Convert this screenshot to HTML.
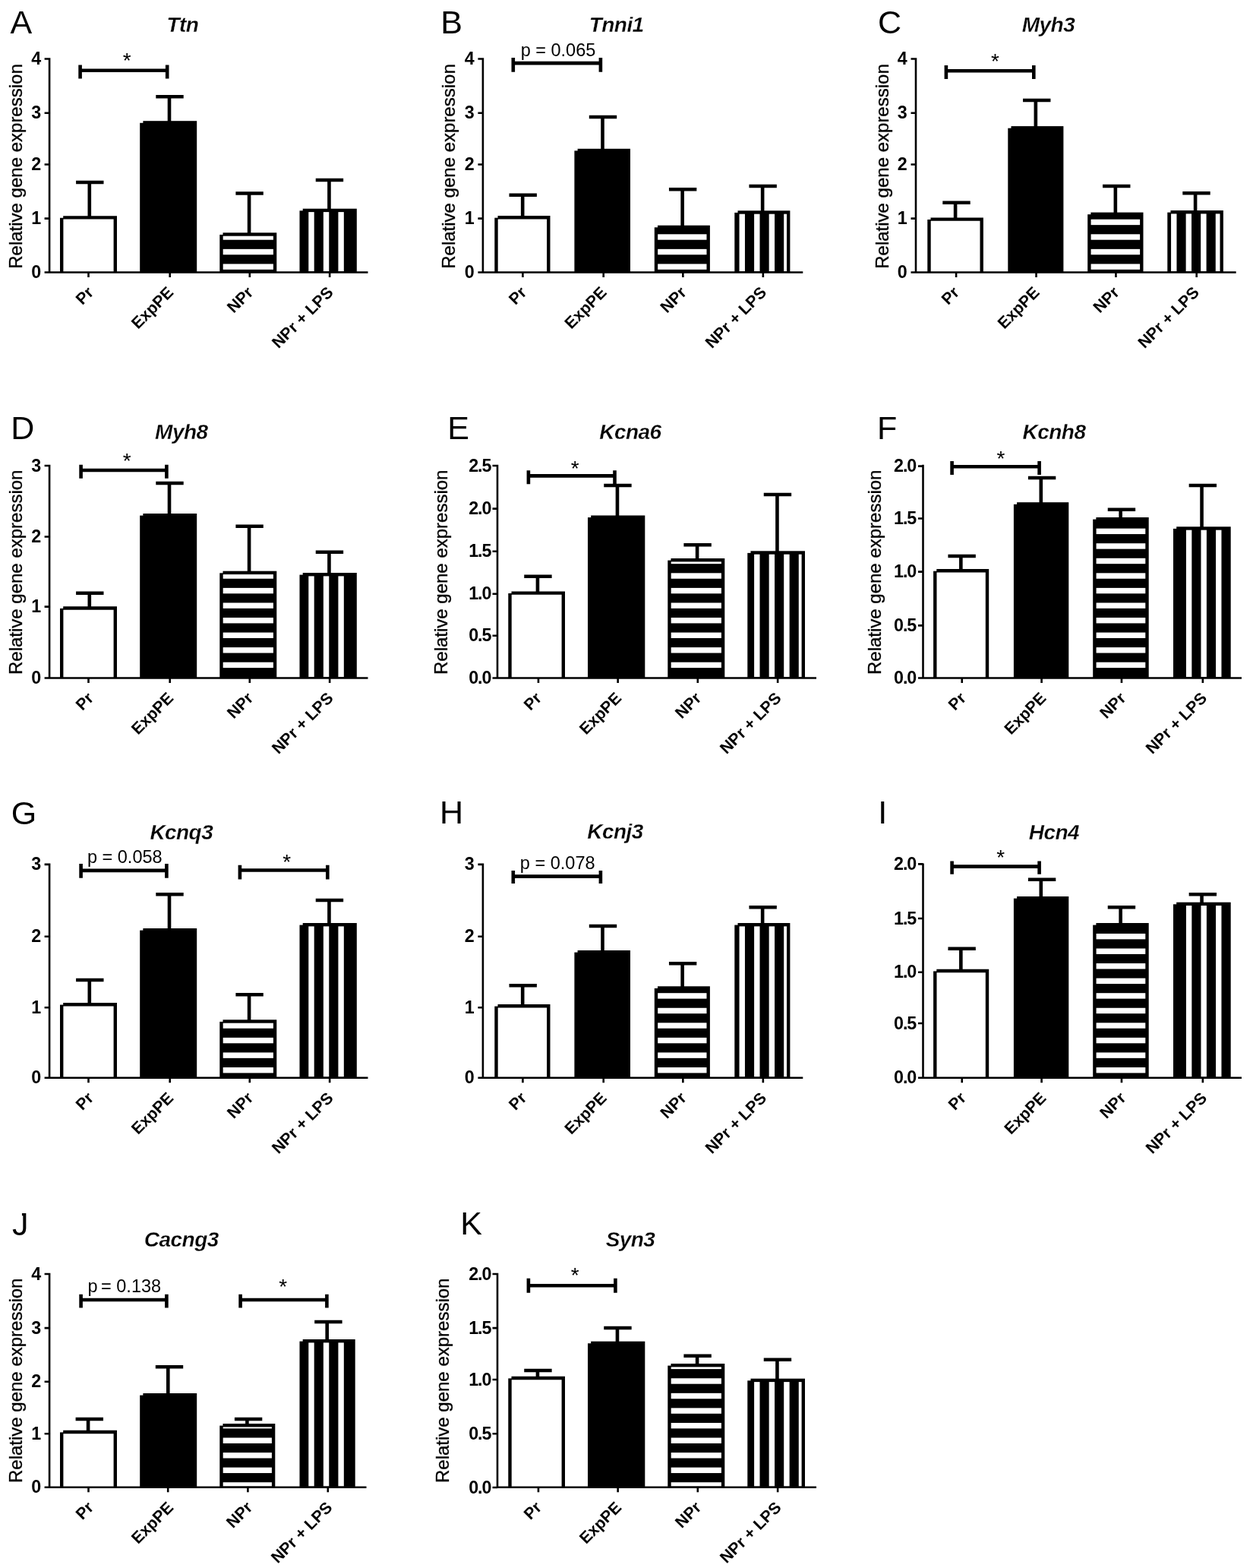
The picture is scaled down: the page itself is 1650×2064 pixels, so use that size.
<!DOCTYPE html>
<html lang="en">
<head>
<meta charset="utf-8">
<title>Relative gene expression</title>
<style>
html,body{margin:0;padding:0;background:#fff;}
body{width:1650px;height:2064px;overflow:hidden;}
svg{display:block;}
text{white-space:pre;}
</style>
</head>
<body>
<svg width="1650" height="2064" viewBox="0 0 1650 2064" font-family="'Liberation Sans', sans-serif" fill="#000">
<rect width="1650" height="2064" fill="#fff"/>
<g>
<text x="13.4" y="44" font-size="43">A</text>
<text x="240.5" y="41.5" font-size="28" font-weight="bold" font-style="italic" text-anchor="middle" letter-spacing="-0.55" stroke="#fff" stroke-width="0.3">Ttn</text>
<path d="M117.8 285.2V240M100.1 240H136.5" stroke="#000" stroke-width="4.6" fill="none"/>
<path d="M81.2 358.5V286.4H151.8V358.5" fill="#fff" stroke="#000" stroke-width="4.4"/>
<path d="M223 160.2V127.2M205.3 127.2H241.7" stroke="#000" stroke-width="4.6" fill="none"/>
<rect x="184.2" y="159.2" width="75" height="199.3"/>
<path d="M328.1 307.3V254.5M310.4 254.5H346.8" stroke="#000" stroke-width="4.6" fill="none"/>
<rect x="289.3" y="306.3" width="75" height="52.2"/>
<rect x="293.7" y="310.7" width="66.2" height="5" fill="#fff"/>
<rect x="293.7" y="327.86" width="66.2" height="7.4" fill="#fff"/>
<rect x="293.7" y="347.42" width="66.2" height="7.4" fill="#fff"/>
<path d="M433.45 275.7V237M415.75 237H452.15" stroke="#000" stroke-width="4.6" fill="none"/>
<rect x="394.5" y="274.7" width="75.3" height="83.8"/>
<rect x="406.3" y="279.1" width="7.4" height="78.1" fill="#fff"/>
<rect x="425.86" y="279.1" width="7.4" height="78.1" fill="#fff"/>
<rect x="445.42" y="279.1" width="7.4" height="78.1" fill="#fff"/>
<rect x="78" y="283.2" width="5.2" height="3.6" fill="#fff"/>
<rect x="183.2" y="158.2" width="5.2" height="3.6" fill="#fff"/>
<rect x="288.3" y="305.3" width="5.2" height="3.6" fill="#fff"/>
<rect x="393.5" y="273.7" width="5.2" height="3.6" fill="#fff"/>
<path d="M65.1 76.2V358.5H484.5M65.1 77.5H58.6M65.1 148.7H58.6M65.1 216.5H58.6M65.1 287.6H58.6M65.1 358.5H58.6M116.5 358.5V364.9M223.7 358.5V364.9M328.8 358.5V364.9M434.15 358.5V364.9" stroke="#000" stroke-width="2.6" fill="none" stroke-linejoin="miter"/>
<text x="54.2" y="85.04" font-size="23.3" font-weight="bold" text-anchor="end">4</text>
<text x="54.2" y="156.24" font-size="23.3" font-weight="bold" text-anchor="end">3</text>
<text x="54.2" y="224.04" font-size="23.3" font-weight="bold" text-anchor="end">2</text>
<text x="54.2" y="295.14" font-size="23.3" font-weight="bold" text-anchor="end">1</text>
<text x="54.2" y="366.04" font-size="23.3" font-weight="bold" text-anchor="end">0</text>
<text transform="translate(124.3 386.3) rotate(-45)" font-size="21.3" font-weight="bold" text-anchor="end">Pr</text>
<text transform="translate(229.5 386.3) rotate(-45)" font-size="21.3" font-weight="bold" text-anchor="end">ExpPE</text>
<text transform="translate(334.6 386.3) rotate(-45)" font-size="21.3" font-weight="bold" text-anchor="end">NPr</text>
<text transform="translate(439.95 386.3) rotate(-45)" font-size="21.3" font-weight="bold" text-anchor="end">NPr + LPS</text>
<text transform="translate(29.2 219) rotate(-90)" font-size="24" text-anchor="middle" stroke="#000" stroke-width="0.35">Relative gene expression</text>
<path d="M103.3 92.8H222.5M105.6 85.6V103.6M220.2 85.6V103.6" stroke="#000" stroke-width="4.6" fill="none"/>
<text x="167.2" y="89.4" font-size="28" text-anchor="middle">*</text>
</g>
<g>
<text x="580.3" y="44" font-size="43">B</text>
<text x="811.7" y="41.5" font-size="28" font-weight="bold" font-style="italic" text-anchor="middle" letter-spacing="-0.55" stroke="#fff" stroke-width="0.3">Tnni1</text>
<path d="M688.2 285.1V256.7M670.5 256.7H706.9" stroke="#000" stroke-width="4.6" fill="none"/>
<path d="M653.5 358.5V286.3H722.3V358.5" fill="#fff" stroke="#000" stroke-width="4.4"/>
<path d="M793.5 196.8V154M775.8 154H812.2" stroke="#000" stroke-width="4.6" fill="none"/>
<rect x="756.4" y="195.8" width="73.6" height="162.7"/>
<path d="M898.65 297.7V249.3M880.95 249.3H917.35" stroke="#000" stroke-width="4.6" fill="none"/>
<rect x="861.8" y="296.7" width="73.1" height="61.8"/>
<rect x="866.2" y="308.3" width="64.3" height="7.4" fill="#fff"/>
<rect x="866.2" y="327.86" width="64.3" height="7.4" fill="#fff"/>
<rect x="866.2" y="347.42" width="64.3" height="7.4" fill="#fff"/>
<path d="M1004.15 278.3V245M986.45 245H1022.85" stroke="#000" stroke-width="4.6" fill="none"/>
<rect x="967.3" y="277.3" width="73.1" height="81.2"/>
<rect x="973.54" y="281.7" width="7.4" height="75.5" fill="#fff"/>
<rect x="993.1" y="281.7" width="7.4" height="75.5" fill="#fff"/>
<rect x="1012.66" y="281.7" width="7.4" height="75.5" fill="#fff"/>
<rect x="1032.22" y="281.7" width="3.78" height="75.5" fill="#fff"/>
<rect x="650.3" y="283.1" width="5.2" height="3.6" fill="#fff"/>
<rect x="755.4" y="194.8" width="5.2" height="3.6" fill="#fff"/>
<rect x="860.8" y="295.7" width="5.2" height="3.6" fill="#fff"/>
<rect x="966.3" y="276.3" width="5.2" height="3.6" fill="#fff"/>
<path d="M635.9 76.2V358.5H1057.3M635.9 77.5H629.4M635.9 148.7H629.4M635.9 216.5H629.4M635.9 287.6H629.4M635.9 358.5H629.4M688.4 358.5V364.9M794.7 358.5V364.9M899.35 358.5V364.9M1004.85 358.5V364.9" stroke="#000" stroke-width="2.6" fill="none" stroke-linejoin="miter"/>
<text x="624.6" y="85.04" font-size="23.3" font-weight="bold" text-anchor="end">4</text>
<text x="624.6" y="156.24" font-size="23.3" font-weight="bold" text-anchor="end">3</text>
<text x="624.6" y="224.04" font-size="23.3" font-weight="bold" text-anchor="end">2</text>
<text x="624.6" y="295.14" font-size="23.3" font-weight="bold" text-anchor="end">1</text>
<text x="624.6" y="366.04" font-size="23.3" font-weight="bold" text-anchor="end">0</text>
<text transform="translate(694.7 386.3) rotate(-45)" font-size="21.3" font-weight="bold" text-anchor="end">Pr</text>
<text transform="translate(800 386.3) rotate(-45)" font-size="21.3" font-weight="bold" text-anchor="end">ExpPE</text>
<text transform="translate(905.15 386.3) rotate(-45)" font-size="21.3" font-weight="bold" text-anchor="end">NPr</text>
<text transform="translate(1010.65 386.3) rotate(-45)" font-size="21.3" font-weight="bold" text-anchor="end">NPr + LPS</text>
<text transform="translate(599.2 219) rotate(-90)" font-size="24" text-anchor="middle" stroke="#000" stroke-width="0.35">Relative gene expression</text>
<path d="M673.5 83.1H793.2M675.8 76V94.8M790.9 76V94.8" stroke="#000" stroke-width="4.6" fill="none"/>
<text x="735" y="74" font-size="23.5" text-anchor="middle">p = 0.065</text>
</g>
<g>
<text x="1156" y="44" font-size="43">C</text>
<text x="1380.5" y="41.5" font-size="28" font-weight="bold" font-style="italic" text-anchor="middle" letter-spacing="-0.55" stroke="#fff" stroke-width="0.3">Myh3</text>
<path d="M1258.1 287.4V266.7M1241.3 266.7H1277.7" stroke="#000" stroke-width="4.6" fill="none"/>
<path d="M1223.5 358.5V288.6H1292.7V358.5" fill="#fff" stroke="#000" stroke-width="4.4"/>
<path d="M1363.85 167.1V132M1347.05 132H1383.45" stroke="#000" stroke-width="4.6" fill="none"/>
<rect x="1327.3" y="166.1" width="73.1" height="192.4"/>
<path d="M1468.85 280.6V245M1452.05 245H1488.45" stroke="#000" stroke-width="4.6" fill="none"/>
<rect x="1432.2" y="279.6" width="73.3" height="78.9"/>
<rect x="1436.6" y="288.74" width="64.5" height="7.4" fill="#fff"/>
<rect x="1436.6" y="308.3" width="64.5" height="7.4" fill="#fff"/>
<rect x="1436.6" y="327.86" width="64.5" height="7.4" fill="#fff"/>
<rect x="1436.6" y="347.42" width="64.5" height="7.4" fill="#fff"/>
<path d="M1574.1 278V254.3M1557.3 254.3H1593.7" stroke="#000" stroke-width="4.6" fill="none"/>
<rect x="1537.3" y="277" width="73.6" height="81.5"/>
<rect x="1542.08" y="281.4" width="7.4" height="75.8" fill="#fff"/>
<rect x="1561.64" y="281.4" width="7.4" height="75.8" fill="#fff"/>
<rect x="1581.2" y="281.4" width="7.4" height="75.8" fill="#fff"/>
<rect x="1600.76" y="281.4" width="5.74" height="75.8" fill="#fff"/>
<rect x="1220.3" y="285.4" width="5.2" height="3.6" fill="#fff"/>
<rect x="1326.3" y="165.1" width="5.2" height="3.6" fill="#fff"/>
<rect x="1431.2" y="278.6" width="5.2" height="3.6" fill="#fff"/>
<rect x="1536.3" y="276" width="5.2" height="3.6" fill="#fff"/>
<path d="M1206 76.2V358.5H1627.7M1206 77.5H1199.5M1206 148.7H1199.5M1206 216.5H1199.5M1206 287.6H1199.5M1206 358.5H1199.5M1259.1 358.5V364.9M1364.55 358.5V364.9M1469.45 358.5V364.9M1575.7 358.5V364.9" stroke="#000" stroke-width="2.6" fill="none" stroke-linejoin="miter"/>
<text x="1194.7" y="85.04" font-size="23.3" font-weight="bold" text-anchor="end">4</text>
<text x="1194.7" y="156.24" font-size="23.3" font-weight="bold" text-anchor="end">3</text>
<text x="1194.7" y="224.04" font-size="23.3" font-weight="bold" text-anchor="end">2</text>
<text x="1194.7" y="295.14" font-size="23.3" font-weight="bold" text-anchor="end">1</text>
<text x="1194.7" y="366.04" font-size="23.3" font-weight="bold" text-anchor="end">0</text>
<text transform="translate(1264.4 386.3) rotate(-45)" font-size="21.3" font-weight="bold" text-anchor="end">Pr</text>
<text transform="translate(1370.15 386.3) rotate(-45)" font-size="21.3" font-weight="bold" text-anchor="end">ExpPE</text>
<text transform="translate(1475.15 386.3) rotate(-45)" font-size="21.3" font-weight="bold" text-anchor="end">NPr</text>
<text transform="translate(1580.4 386.3) rotate(-45)" font-size="21.3" font-weight="bold" text-anchor="end">NPr + LPS</text>
<text transform="translate(1169.7 219) rotate(-90)" font-size="24" text-anchor="middle" stroke="#000" stroke-width="0.35">Relative gene expression</text>
<path d="M1243.6 93.2H1363.6M1245.9 86V104M1361.3 86V104" stroke="#000" stroke-width="4.6" fill="none"/>
<text x="1310.5" y="90.1" font-size="28" text-anchor="middle">*</text>
</g>
<g>
<text x="14.3" y="577.9" font-size="43">D</text>
<text x="238.8" y="578" font-size="28" font-weight="bold" font-style="italic" text-anchor="middle" letter-spacing="-0.55" stroke="#fff" stroke-width="0.3">Myh8</text>
<path d="M117.8 799.3V780.7M100.1 780.7H136.5" stroke="#000" stroke-width="4.6" fill="none"/>
<path d="M81.2 892.5V800.5H151.8V892.5" fill="#fff" stroke="#000" stroke-width="4.4"/>
<path d="M223 677V636M205.3 636H241.7" stroke="#000" stroke-width="4.6" fill="none"/>
<rect x="184.2" y="676" width="75" height="216.5"/>
<path d="M328.1 752.7V692.7M310.4 692.7H346.8" stroke="#000" stroke-width="4.6" fill="none"/>
<rect x="289.3" y="751.7" width="75" height="140.8"/>
<rect x="293.7" y="756.1" width="66.2" height="5.64" fill="#fff"/>
<rect x="293.7" y="773.9" width="66.2" height="7.4" fill="#fff"/>
<rect x="293.7" y="793.46" width="66.2" height="7.4" fill="#fff"/>
<rect x="293.7" y="813.02" width="66.2" height="7.4" fill="#fff"/>
<rect x="293.7" y="832.58" width="66.2" height="7.4" fill="#fff"/>
<rect x="293.7" y="852.14" width="66.2" height="7.4" fill="#fff"/>
<rect x="293.7" y="871.7" width="66.2" height="7.4" fill="#fff"/>
<path d="M433.45 755V726.7M415.75 726.7H452.15" stroke="#000" stroke-width="4.6" fill="none"/>
<rect x="394.5" y="754" width="75.3" height="138.5"/>
<rect x="406.3" y="758.4" width="7.4" height="132.8" fill="#fff"/>
<rect x="425.86" y="758.4" width="7.4" height="132.8" fill="#fff"/>
<rect x="445.42" y="758.4" width="7.4" height="132.8" fill="#fff"/>
<rect x="78" y="797.3" width="5.2" height="3.6" fill="#fff"/>
<rect x="183.2" y="675" width="5.2" height="3.6" fill="#fff"/>
<rect x="288.3" y="750.7" width="5.2" height="3.6" fill="#fff"/>
<rect x="393.5" y="753" width="5.2" height="3.6" fill="#fff"/>
<path d="M65.1 611.7V892.5H484.5M65.1 613H58.6M65.1 706.5H58.6M65.1 798.6H58.6M65.1 892.5H58.6M116.5 892.5V898.9M223.7 892.5V898.9M328.8 892.5V898.9M434.15 892.5V898.9" stroke="#000" stroke-width="2.6" fill="none" stroke-linejoin="miter"/>
<text x="54.2" y="620.54" font-size="23.3" font-weight="bold" text-anchor="end">3</text>
<text x="54.2" y="714.04" font-size="23.3" font-weight="bold" text-anchor="end">2</text>
<text x="54.2" y="806.14" font-size="23.3" font-weight="bold" text-anchor="end">1</text>
<text x="54.2" y="900.04" font-size="23.3" font-weight="bold" text-anchor="end">0</text>
<text transform="translate(124.3 920.3) rotate(-45)" font-size="21.3" font-weight="bold" text-anchor="end">Pr</text>
<text transform="translate(229.5 920.3) rotate(-45)" font-size="21.3" font-weight="bold" text-anchor="end">ExpPE</text>
<text transform="translate(334.6 920.3) rotate(-45)" font-size="21.3" font-weight="bold" text-anchor="end">NPr</text>
<text transform="translate(439.95 920.3) rotate(-45)" font-size="21.3" font-weight="bold" text-anchor="end">NPr + LPS</text>
<text transform="translate(29.2 753.3) rotate(-90)" font-size="24" text-anchor="middle" stroke="#000" stroke-width="0.35">Relative gene expression</text>
<path d="M104.3 619H221.7M106.6 611.8V629.8M219.4 611.8V629.8" stroke="#000" stroke-width="4.6" fill="none"/>
<text x="167.3" y="616.3" font-size="28" text-anchor="middle">*</text>
</g>
<g>
<text x="589.2" y="577.9" font-size="43">E</text>
<text x="830" y="578" font-size="28" font-weight="bold" font-style="italic" text-anchor="middle" letter-spacing="-0.55" stroke="#fff" stroke-width="0.3">Kcna6</text>
<path d="M707.95 779.4V758.7M690.25 758.7H726.65" stroke="#000" stroke-width="4.6" fill="none"/>
<path d="M671.5 892.5V780.6H741.8V892.5" fill="#fff" stroke="#000" stroke-width="4.4"/>
<path d="M812.95 679.5V639M795.25 639H831.65" stroke="#000" stroke-width="4.6" fill="none"/>
<rect x="774" y="678.5" width="75.3" height="214"/>
<path d="M918.1 736V717.3M900.4 717.3H936.8" stroke="#000" stroke-width="4.6" fill="none"/>
<rect x="879.3" y="735" width="75" height="157.5"/>
<rect x="883.7" y="739.4" width="66.2" height="2.78" fill="#fff"/>
<rect x="883.7" y="754.34" width="66.2" height="7.4" fill="#fff"/>
<rect x="883.7" y="773.9" width="66.2" height="7.4" fill="#fff"/>
<rect x="883.7" y="793.46" width="66.2" height="7.4" fill="#fff"/>
<rect x="883.7" y="813.02" width="66.2" height="7.4" fill="#fff"/>
<rect x="883.7" y="832.58" width="66.2" height="7.4" fill="#fff"/>
<rect x="883.7" y="852.14" width="66.2" height="7.4" fill="#fff"/>
<rect x="883.7" y="871.7" width="66.2" height="7.4" fill="#fff"/>
<path d="M1023.45 726.3V651M1005.75 651H1042.15" stroke="#000" stroke-width="4.6" fill="none"/>
<rect x="984.3" y="725.3" width="75.7" height="167.2"/>
<rect x="993.1" y="729.7" width="7.4" height="161.5" fill="#fff"/>
<rect x="1012.66" y="729.7" width="7.4" height="161.5" fill="#fff"/>
<rect x="1032.22" y="729.7" width="7.4" height="161.5" fill="#fff"/>
<rect x="1051.78" y="729.7" width="3.82" height="161.5" fill="#fff"/>
<rect x="668.3" y="777.4" width="5.2" height="3.6" fill="#fff"/>
<rect x="773" y="677.5" width="5.2" height="3.6" fill="#fff"/>
<rect x="878.3" y="734" width="5.2" height="3.6" fill="#fff"/>
<rect x="983.3" y="724.3" width="5.2" height="3.6" fill="#fff"/>
<path d="M655 611.7V892.5H1075M655 613H648.5M655 669.6H648.5M655 725.7H648.5M655 781.8H648.5M655 836.8H648.5M655 892.5H648.5M708.95 892.5V898.9M813.65 892.5V898.9M918.8 892.5V898.9M1024.15 892.5V898.9" stroke="#000" stroke-width="2.6" fill="none" stroke-linejoin="miter"/>
<text x="646.3" y="620.54" font-size="23.3" font-weight="bold" text-anchor="end" letter-spacing="-1.1">2.5</text>
<text x="646.3" y="677.14" font-size="23.3" font-weight="bold" text-anchor="end" letter-spacing="-1.1">2.0</text>
<text x="646.3" y="733.24" font-size="23.3" font-weight="bold" text-anchor="end" letter-spacing="-1.1">1.5</text>
<text x="646.3" y="789.34" font-size="23.3" font-weight="bold" text-anchor="end" letter-spacing="-1.1">1.0</text>
<text x="646.3" y="844.34" font-size="23.3" font-weight="bold" text-anchor="end" letter-spacing="-1.1">0.5</text>
<text x="646.3" y="900.04" font-size="23.3" font-weight="bold" text-anchor="end" letter-spacing="-1.1">0.0</text>
<text transform="translate(714.45 920.3) rotate(-45)" font-size="21.3" font-weight="bold" text-anchor="end">Pr</text>
<text transform="translate(819.45 920.3) rotate(-45)" font-size="21.3" font-weight="bold" text-anchor="end">ExpPE</text>
<text transform="translate(924.6 920.3) rotate(-45)" font-size="21.3" font-weight="bold" text-anchor="end">NPr</text>
<text transform="translate(1029.95 920.3) rotate(-45)" font-size="21.3" font-weight="bold" text-anchor="end">NPr + LPS</text>
<text transform="translate(589.2 753.3) rotate(-90)" font-size="24" text-anchor="middle" stroke="#000" stroke-width="0.35">Relative gene expression</text>
<path d="M693.6 626.4H811.8M695.9 619.2V637.2M809.5 619.2V637.2" stroke="#000" stroke-width="4.6" fill="none"/>
<text x="757.3" y="625.8" font-size="28" text-anchor="middle">*</text>
</g>
<g>
<text x="1155" y="577.9" font-size="43">F</text>
<text x="1388" y="578" font-size="28" font-weight="bold" font-style="italic" text-anchor="middle" letter-spacing="-0.55" stroke="#fff" stroke-width="0.3">Kcnh8</text>
<path d="M1265.35 750.1V732M1248.45 732H1284.85" stroke="#000" stroke-width="4.6" fill="none"/>
<path d="M1231.3 892.5V751.3H1300V892.5" fill="#fff" stroke="#000" stroke-width="4.4"/>
<path d="M1370.8 662.2V629M1353.9 629H1390.3" stroke="#000" stroke-width="4.6" fill="none"/>
<rect x="1334.9" y="661.2" width="72.4" height="231.3"/>
<path d="M1475.65 682V670.7M1458.75 670.7H1495.15" stroke="#000" stroke-width="4.6" fill="none"/>
<rect x="1439.2" y="681" width="73.5" height="211.5"/>
<rect x="1443.6" y="695.66" width="64.7" height="7.4" fill="#fff"/>
<rect x="1443.6" y="715.22" width="64.7" height="7.4" fill="#fff"/>
<rect x="1443.6" y="734.78" width="64.7" height="7.4" fill="#fff"/>
<rect x="1443.6" y="754.34" width="64.7" height="7.4" fill="#fff"/>
<rect x="1443.6" y="773.9" width="64.7" height="7.4" fill="#fff"/>
<rect x="1443.6" y="793.46" width="64.7" height="7.4" fill="#fff"/>
<rect x="1443.6" y="813.02" width="64.7" height="7.4" fill="#fff"/>
<rect x="1443.6" y="832.58" width="64.7" height="7.4" fill="#fff"/>
<rect x="1443.6" y="852.14" width="64.7" height="7.4" fill="#fff"/>
<rect x="1443.6" y="871.7" width="64.7" height="7.4" fill="#fff"/>
<path d="M1582.55 694.3V639M1565.65 639H1602.05" stroke="#000" stroke-width="4.6" fill="none"/>
<rect x="1545" y="693.3" width="75.7" height="199.2"/>
<rect x="1561.94" y="697.7" width="7.4" height="193.5" fill="#fff"/>
<rect x="1581.5" y="697.7" width="7.4" height="193.5" fill="#fff"/>
<rect x="1601.06" y="697.7" width="7.4" height="193.5" fill="#fff"/>
<rect x="1228.1" y="748.1" width="5.2" height="3.6" fill="#fff"/>
<rect x="1333.9" y="660.2" width="5.2" height="3.6" fill="#fff"/>
<rect x="1438.2" y="680" width="5.2" height="3.6" fill="#fff"/>
<rect x="1544" y="692.3" width="5.2" height="3.6" fill="#fff"/>
<path d="M1215.5 611.7V892.5H1635M1215.5 613.6H1209M1215.5 682.5H1209M1215.5 752.6H1209M1215.5 823.4H1209M1215.5 892.5H1209M1266.75 892.5V898.9M1371.6 892.5V898.9M1476.95 892.5V898.9M1583.85 892.5V898.9" stroke="#000" stroke-width="2.6" fill="none" stroke-linejoin="miter"/>
<text x="1206.2" y="621.14" font-size="23.3" font-weight="bold" text-anchor="end" letter-spacing="-1.1">2.0</text>
<text x="1206.2" y="690.04" font-size="23.3" font-weight="bold" text-anchor="end" letter-spacing="-1.1">1.5</text>
<text x="1206.2" y="760.14" font-size="23.3" font-weight="bold" text-anchor="end" letter-spacing="-1.1">1.0</text>
<text x="1206.2" y="830.94" font-size="23.3" font-weight="bold" text-anchor="end" letter-spacing="-1.1">0.5</text>
<text x="1206.2" y="900.04" font-size="23.3" font-weight="bold" text-anchor="end" letter-spacing="-1.1">0.0</text>
<text transform="translate(1273.45 920.3) rotate(-45)" font-size="21.3" font-weight="bold" text-anchor="end">Pr</text>
<text transform="translate(1378.9 920.3) rotate(-45)" font-size="21.3" font-weight="bold" text-anchor="end">ExpPE</text>
<text transform="translate(1483.75 920.3) rotate(-45)" font-size="21.3" font-weight="bold" text-anchor="end">NPr</text>
<text transform="translate(1590.65 920.3) rotate(-45)" font-size="21.3" font-weight="bold" text-anchor="end">NPr + LPS</text>
<text transform="translate(1159.5 753.3) rotate(-90)" font-size="24" text-anchor="middle" stroke="#000" stroke-width="0.35">Relative gene expression</text>
<path d="M1251.3 614.2H1370.9M1253.6 607V625M1368.6 607V625" stroke="#000" stroke-width="4.6" fill="none"/>
<text x="1318" y="613" font-size="28" text-anchor="middle">*</text>
</g>
<g>
<text x="14.8" y="1084.8" font-size="43">G</text>
<text x="238.8" y="1105" font-size="28" font-weight="bold" font-style="italic" text-anchor="middle" letter-spacing="-0.55" stroke="#fff" stroke-width="0.3">Kcnq3</text>
<path d="M117.8 1321V1290M100.1 1290H136.5" stroke="#000" stroke-width="4.6" fill="none"/>
<path d="M81.2 1418.8V1322.2H151.8V1418.8" fill="#fff" stroke="#000" stroke-width="4.4"/>
<path d="M223 1223V1177.3M205.3 1177.3H241.7" stroke="#000" stroke-width="4.6" fill="none"/>
<rect x="184.2" y="1222" width="75" height="196.8"/>
<path d="M328.1 1343.3V1309.3M310.4 1309.3H346.8" stroke="#000" stroke-width="4.6" fill="none"/>
<rect x="289.3" y="1342.3" width="75" height="76.5"/>
<rect x="293.7" y="1346.7" width="66.2" height="7.02" fill="#fff"/>
<rect x="293.7" y="1365.88" width="66.2" height="7.4" fill="#fff"/>
<rect x="293.7" y="1385.44" width="66.2" height="7.4" fill="#fff"/>
<rect x="293.7" y="1405" width="66.2" height="7.4" fill="#fff"/>
<path d="M433.45 1216V1185M415.75 1185H452.15" stroke="#000" stroke-width="4.6" fill="none"/>
<rect x="394.5" y="1215" width="75.3" height="203.8"/>
<rect x="406.3" y="1219.4" width="7.4" height="198.1" fill="#fff"/>
<rect x="425.86" y="1219.4" width="7.4" height="198.1" fill="#fff"/>
<rect x="445.42" y="1219.4" width="7.4" height="198.1" fill="#fff"/>
<rect x="78" y="1319" width="5.2" height="3.6" fill="#fff"/>
<rect x="183.2" y="1221" width="5.2" height="3.6" fill="#fff"/>
<rect x="288.3" y="1341.3" width="5.2" height="3.6" fill="#fff"/>
<rect x="393.5" y="1214" width="5.2" height="3.6" fill="#fff"/>
<path d="M65.1 1136.6V1418.8H484.5M65.1 1137.9H58.6M65.1 1232.8H58.6M65.1 1326.3H58.6M65.1 1418.8H58.6M116.5 1418.8V1425.2M223.7 1418.8V1425.2M328.8 1418.8V1425.2M434.15 1418.8V1425.2" stroke="#000" stroke-width="2.6" fill="none" stroke-linejoin="miter"/>
<text x="54.2" y="1145.44" font-size="23.3" font-weight="bold" text-anchor="end">3</text>
<text x="54.2" y="1240.34" font-size="23.3" font-weight="bold" text-anchor="end">2</text>
<text x="54.2" y="1333.84" font-size="23.3" font-weight="bold" text-anchor="end">1</text>
<text x="54.2" y="1426.34" font-size="23.3" font-weight="bold" text-anchor="end">0</text>
<text transform="translate(124.3 1446.6) rotate(-45)" font-size="21.3" font-weight="bold" text-anchor="end">Pr</text>
<text transform="translate(229.5 1446.6) rotate(-45)" font-size="21.3" font-weight="bold" text-anchor="end">ExpPE</text>
<text transform="translate(334.6 1446.6) rotate(-45)" font-size="21.3" font-weight="bold" text-anchor="end">NPr</text>
<text transform="translate(439.95 1446.6) rotate(-45)" font-size="21.3" font-weight="bold" text-anchor="end">NPr + LPS</text>
<path d="M104.3 1145.9H221.7M106.6 1136.9V1155.7M219.4 1136.9V1155.7" stroke="#000" stroke-width="4.6" fill="none"/>
<text x="164.3" y="1136" font-size="23.5" text-anchor="middle">p = 0.058</text>
<path d="M313.6 1145.5H433.6M315.9 1138.7V1157.5M431.3 1138.7V1157.5" stroke="#000" stroke-width="4.6" fill="none"/>
<text x="377.7" y="1144" font-size="28" text-anchor="middle">*</text>
</g>
<g>
<text x="579" y="1084.4" font-size="43">H</text>
<text x="810" y="1104.4" font-size="28" font-weight="bold" font-style="italic" text-anchor="middle" letter-spacing="-0.55" stroke="#fff" stroke-width="0.3">Kcnj3</text>
<path d="M688.2 1323V1297.3M670.5 1297.3H706.9" stroke="#000" stroke-width="4.6" fill="none"/>
<path d="M653.5 1418.8V1324.2H722.3V1418.8" fill="#fff" stroke="#000" stroke-width="4.4"/>
<path d="M793.5 1252V1219M775.8 1219H812.2" stroke="#000" stroke-width="4.6" fill="none"/>
<rect x="756.4" y="1251" width="73.6" height="167.8"/>
<path d="M898.65 1299.3V1268.3M880.95 1268.3H917.35" stroke="#000" stroke-width="4.6" fill="none"/>
<rect x="861.8" y="1298.3" width="73.1" height="120.5"/>
<rect x="866.2" y="1307.2" width="64.3" height="7.4" fill="#fff"/>
<rect x="866.2" y="1326.76" width="64.3" height="7.4" fill="#fff"/>
<rect x="866.2" y="1346.32" width="64.3" height="7.4" fill="#fff"/>
<rect x="866.2" y="1365.88" width="64.3" height="7.4" fill="#fff"/>
<rect x="866.2" y="1385.44" width="64.3" height="7.4" fill="#fff"/>
<rect x="866.2" y="1405" width="64.3" height="7.4" fill="#fff"/>
<path d="M1004.15 1216V1194.3M986.45 1194.3H1022.85" stroke="#000" stroke-width="4.6" fill="none"/>
<rect x="967.3" y="1215" width="73.1" height="203.8"/>
<rect x="973.54" y="1219.4" width="7.4" height="198.1" fill="#fff"/>
<rect x="993.1" y="1219.4" width="7.4" height="198.1" fill="#fff"/>
<rect x="1012.66" y="1219.4" width="7.4" height="198.1" fill="#fff"/>
<rect x="1032.22" y="1219.4" width="3.78" height="198.1" fill="#fff"/>
<rect x="650.3" y="1321" width="5.2" height="3.6" fill="#fff"/>
<rect x="755.4" y="1250" width="5.2" height="3.6" fill="#fff"/>
<rect x="860.8" y="1297.3" width="5.2" height="3.6" fill="#fff"/>
<rect x="966.3" y="1214" width="5.2" height="3.6" fill="#fff"/>
<path d="M635.9 1136.6V1418.8H1057.3M635.9 1137.9H629.4M635.9 1232.8H629.4M635.9 1326.3H629.4M635.9 1418.8H629.4M688.4 1418.8V1425.2M794.7 1418.8V1425.2M899.35 1418.8V1425.2M1004.85 1418.8V1425.2" stroke="#000" stroke-width="2.6" fill="none" stroke-linejoin="miter"/>
<text x="624.6" y="1145.44" font-size="23.3" font-weight="bold" text-anchor="end">3</text>
<text x="624.6" y="1240.34" font-size="23.3" font-weight="bold" text-anchor="end">2</text>
<text x="624.6" y="1333.84" font-size="23.3" font-weight="bold" text-anchor="end">1</text>
<text x="624.6" y="1426.34" font-size="23.3" font-weight="bold" text-anchor="end">0</text>
<text transform="translate(694.7 1446.6) rotate(-45)" font-size="21.3" font-weight="bold" text-anchor="end">Pr</text>
<text transform="translate(800 1446.6) rotate(-45)" font-size="21.3" font-weight="bold" text-anchor="end">ExpPE</text>
<text transform="translate(905.15 1446.6) rotate(-45)" font-size="21.3" font-weight="bold" text-anchor="end">NPr</text>
<text transform="translate(1010.65 1446.6) rotate(-45)" font-size="21.3" font-weight="bold" text-anchor="end">NPr + LPS</text>
<path d="M673.5 1153.6H793.2M675.8 1146.1V1163.1M790.9 1146.1V1163.1" stroke="#000" stroke-width="4.6" fill="none"/>
<text x="734.2" y="1143.8" font-size="23.5" text-anchor="middle">p = 0.078</text>
</g>
<g>
<text x="1156.2" y="1084.1" font-size="43">I</text>
<text x="1388" y="1105" font-size="28" font-weight="bold" font-style="italic" text-anchor="middle" letter-spacing="-0.55" stroke="#fff" stroke-width="0.3">Hcn4</text>
<path d="M1265.35 1276.8V1248.7M1248.45 1248.7H1284.85" stroke="#000" stroke-width="4.6" fill="none"/>
<path d="M1231.3 1418.8V1278H1300V1418.8" fill="#fff" stroke="#000" stroke-width="4.4"/>
<path d="M1370.8 1181V1157.7M1353.9 1157.7H1390.3" stroke="#000" stroke-width="4.6" fill="none"/>
<rect x="1334.9" y="1180" width="72.4" height="238.8"/>
<path d="M1475.65 1216V1194.3M1458.75 1194.3H1495.15" stroke="#000" stroke-width="4.6" fill="none"/>
<rect x="1439.2" y="1215" width="73.5" height="203.8"/>
<rect x="1443.6" y="1228.96" width="64.7" height="7.4" fill="#fff"/>
<rect x="1443.6" y="1248.52" width="64.7" height="7.4" fill="#fff"/>
<rect x="1443.6" y="1268.08" width="64.7" height="7.4" fill="#fff"/>
<rect x="1443.6" y="1287.64" width="64.7" height="7.4" fill="#fff"/>
<rect x="1443.6" y="1307.2" width="64.7" height="7.4" fill="#fff"/>
<rect x="1443.6" y="1326.76" width="64.7" height="7.4" fill="#fff"/>
<rect x="1443.6" y="1346.32" width="64.7" height="7.4" fill="#fff"/>
<rect x="1443.6" y="1365.88" width="64.7" height="7.4" fill="#fff"/>
<rect x="1443.6" y="1385.44" width="64.7" height="7.4" fill="#fff"/>
<rect x="1443.6" y="1405" width="64.7" height="7.4" fill="#fff"/>
<path d="M1582.55 1188.7V1177.3M1565.65 1177.3H1602.05" stroke="#000" stroke-width="4.6" fill="none"/>
<rect x="1545" y="1187.7" width="75.7" height="231.1"/>
<rect x="1561.94" y="1192.1" width="7.4" height="225.4" fill="#fff"/>
<rect x="1581.5" y="1192.1" width="7.4" height="225.4" fill="#fff"/>
<rect x="1601.06" y="1192.1" width="7.4" height="225.4" fill="#fff"/>
<rect x="1228.1" y="1274.8" width="5.2" height="3.6" fill="#fff"/>
<rect x="1333.9" y="1179" width="5.2" height="3.6" fill="#fff"/>
<rect x="1438.2" y="1214" width="5.2" height="3.6" fill="#fff"/>
<rect x="1544" y="1186.7" width="5.2" height="3.6" fill="#fff"/>
<path d="M1215.5 1136.6V1418.8H1635M1215.5 1137.4H1209M1215.5 1209H1209M1215.5 1279.8H1209M1215.5 1347H1209M1215.5 1418.8H1209M1266.75 1418.8V1425.2M1371.6 1418.8V1425.2M1476.95 1418.8V1425.2M1583.85 1418.8V1425.2" stroke="#000" stroke-width="2.6" fill="none" stroke-linejoin="miter"/>
<text x="1206.2" y="1144.94" font-size="23.3" font-weight="bold" text-anchor="end" letter-spacing="-1.1">2.0</text>
<text x="1206.2" y="1216.54" font-size="23.3" font-weight="bold" text-anchor="end" letter-spacing="-1.1">1.5</text>
<text x="1206.2" y="1287.34" font-size="23.3" font-weight="bold" text-anchor="end" letter-spacing="-1.1">1.0</text>
<text x="1206.2" y="1354.54" font-size="23.3" font-weight="bold" text-anchor="end" letter-spacing="-1.1">0.5</text>
<text x="1206.2" y="1426.34" font-size="23.3" font-weight="bold" text-anchor="end" letter-spacing="-1.1">0.0</text>
<text transform="translate(1273.45 1446.6) rotate(-45)" font-size="21.3" font-weight="bold" text-anchor="end">Pr</text>
<text transform="translate(1378.9 1446.6) rotate(-45)" font-size="21.3" font-weight="bold" text-anchor="end">ExpPE</text>
<text transform="translate(1483.75 1446.6) rotate(-45)" font-size="21.3" font-weight="bold" text-anchor="end">NPr</text>
<text transform="translate(1590.65 1446.6) rotate(-45)" font-size="21.3" font-weight="bold" text-anchor="end">NPr + LPS</text>
<path d="M1251.3 1140.6H1370.9M1253.6 1133.6V1150.8M1368.6 1133.6V1150.8" stroke="#000" stroke-width="4.6" fill="none"/>
<text x="1317.7" y="1137.8" font-size="28" text-anchor="middle">*</text>
</g>
<g>
<text x="16" y="1626" font-size="43">J</text>
<rect x="14" y="1593.21" width="14.93" height="8" fill="#fff"/>
<text x="238.8" y="1640.7" font-size="28" font-weight="bold" font-style="italic" text-anchor="middle" letter-spacing="-0.55" stroke="#fff" stroke-width="0.3">Cacng3</text>
<path d="M116.1 1883.8V1868M99.6 1868H136" stroke="#000" stroke-width="4.6" fill="none"/>
<path d="M81.2 1957.8V1885H151.8V1957.8" fill="#fff" stroke="#000" stroke-width="4.4"/>
<path d="M221.3 1835V1799.3M204.8 1799.3H241.2" stroke="#000" stroke-width="4.6" fill="none"/>
<rect x="184.2" y="1834" width="75" height="123.8"/>
<path d="M325.4 1875V1868M308.9 1868H345.3" stroke="#000" stroke-width="4.6" fill="none"/>
<rect x="289.3" y="1874" width="73" height="83.8"/>
<rect x="293.7" y="1878.4" width="64.2" height="1.96" fill="#fff"/>
<rect x="293.7" y="1892.52" width="64.2" height="7.4" fill="#fff"/>
<rect x="293.7" y="1912.08" width="64.2" height="7.4" fill="#fff"/>
<rect x="293.7" y="1931.64" width="64.2" height="7.4" fill="#fff"/>
<rect x="293.7" y="1951.2" width="64.2" height="5.3" fill="#fff"/>
<path d="M430.7 1764V1740M414.2 1740H450.6" stroke="#000" stroke-width="4.6" fill="none"/>
<rect x="394.5" y="1763" width="73.2" height="194.8"/>
<rect x="406.3" y="1767.4" width="7.4" height="189.1" fill="#fff"/>
<rect x="425.86" y="1767.4" width="7.4" height="189.1" fill="#fff"/>
<rect x="445.42" y="1767.4" width="7.4" height="189.1" fill="#fff"/>
<rect x="78" y="1881.8" width="5.2" height="3.6" fill="#fff"/>
<rect x="183.2" y="1833" width="5.2" height="3.6" fill="#fff"/>
<rect x="288.3" y="1873" width="5.2" height="3.6" fill="#fff"/>
<rect x="393.5" y="1762" width="5.2" height="3.6" fill="#fff"/>
<path d="M65.1 1675.7V1957.8H482.5M65.1 1677H58.6M65.1 1748.1H58.6M65.1 1818.7H58.6M65.1 1887.3H58.6M65.1 1957.8H58.6M116.5 1957.8V1964.2M221.2 1957.8V1964.2M326.4 1957.8V1964.2M431.8 1957.8V1964.2" stroke="#000" stroke-width="2.6" fill="none" stroke-linejoin="miter"/>
<text x="54.2" y="1684.54" font-size="23.3" font-weight="bold" text-anchor="end">4</text>
<text x="54.2" y="1755.64" font-size="23.3" font-weight="bold" text-anchor="end">3</text>
<text x="54.2" y="1826.24" font-size="23.3" font-weight="bold" text-anchor="end">2</text>
<text x="54.2" y="1894.84" font-size="23.3" font-weight="bold" text-anchor="end">1</text>
<text x="54.2" y="1965.34" font-size="23.3" font-weight="bold" text-anchor="end">0</text>
<text transform="translate(124.3 1985.6) rotate(-45)" font-size="21.3" font-weight="bold" text-anchor="end">Pr</text>
<text transform="translate(229.5 1985.6) rotate(-45)" font-size="21.3" font-weight="bold" text-anchor="end">ExpPE</text>
<text transform="translate(333.6 1985.6) rotate(-45)" font-size="21.3" font-weight="bold" text-anchor="end">NPr</text>
<text transform="translate(438.9 1985.6) rotate(-45)" font-size="21.3" font-weight="bold" text-anchor="end">NPr + LPS</text>
<text transform="translate(29.2 1817.3) rotate(-90)" font-size="24" text-anchor="middle" stroke="#000" stroke-width="0.35">Relative gene expression</text>
<path d="M104.3 1711H221.7M106.6 1703.8V1721.4M219.4 1703.8V1721.4" stroke="#000" stroke-width="4.6" fill="none"/>
<text x="163.8" y="1700.7" font-size="23.5" text-anchor="middle">p<tspan dx="4.5">= 0.138</tspan></text>
<path d="M314.3 1711H432.7M316.6 1703.8V1721.4M430.4 1703.8V1721.4" stroke="#000" stroke-width="4.6" fill="none"/>
<text x="372.7" y="1702.8" font-size="28" text-anchor="middle">*</text>
</g>
<g>
<text x="606.2" y="1625.3" font-size="43">K</text>
<text x="830" y="1640.7" font-size="28" font-weight="bold" font-style="italic" text-anchor="middle" letter-spacing="-0.55" stroke="#fff" stroke-width="0.3">Syn3</text>
<path d="M707.95 1812.8V1804M690.25 1804H726.65" stroke="#000" stroke-width="4.6" fill="none"/>
<path d="M671.5 1957.8V1814H741.8V1957.8" fill="#fff" stroke="#000" stroke-width="4.4"/>
<path d="M812.95 1766.7V1748M795.25 1748H831.65" stroke="#000" stroke-width="4.6" fill="none"/>
<rect x="774" y="1765.7" width="75.3" height="192.1"/>
<path d="M918.1 1796V1784.7M900.4 1784.7H936.8" stroke="#000" stroke-width="4.6" fill="none"/>
<rect x="879.3" y="1795" width="75" height="162.8"/>
<rect x="883.7" y="1799.4" width="66.2" height="2.72" fill="#fff"/>
<rect x="883.7" y="1814.28" width="66.2" height="7.4" fill="#fff"/>
<rect x="883.7" y="1833.84" width="66.2" height="7.4" fill="#fff"/>
<rect x="883.7" y="1853.4" width="66.2" height="7.4" fill="#fff"/>
<rect x="883.7" y="1872.96" width="66.2" height="7.4" fill="#fff"/>
<rect x="883.7" y="1892.52" width="66.2" height="7.4" fill="#fff"/>
<rect x="883.7" y="1912.08" width="66.2" height="7.4" fill="#fff"/>
<rect x="883.7" y="1931.64" width="66.2" height="7.4" fill="#fff"/>
<rect x="883.7" y="1951.2" width="66.2" height="5.3" fill="#fff"/>
<path d="M1023.45 1815.7V1789.7M1005.75 1789.7H1042.15" stroke="#000" stroke-width="4.6" fill="none"/>
<rect x="984.3" y="1814.7" width="75.7" height="143.1"/>
<rect x="993.1" y="1819.1" width="7.4" height="137.4" fill="#fff"/>
<rect x="1012.66" y="1819.1" width="7.4" height="137.4" fill="#fff"/>
<rect x="1032.22" y="1819.1" width="7.4" height="137.4" fill="#fff"/>
<rect x="1051.78" y="1819.1" width="3.82" height="137.4" fill="#fff"/>
<rect x="668.3" y="1810.8" width="5.2" height="3.6" fill="#fff"/>
<rect x="773" y="1764.7" width="5.2" height="3.6" fill="#fff"/>
<rect x="878.3" y="1794" width="5.2" height="3.6" fill="#fff"/>
<rect x="983.3" y="1813.7" width="5.2" height="3.6" fill="#fff"/>
<path d="M655 1675.7V1957.8H1075M655 1677H648.5M655 1748.1H648.5M655 1816H648.5M655 1887.3H648.5M655 1958H648.5M708.95 1957.8V1964.2M813.65 1957.8V1964.2M918.8 1957.8V1964.2M1024.15 1957.8V1964.2" stroke="#000" stroke-width="2.6" fill="none" stroke-linejoin="miter"/>
<text x="646.3" y="1684.54" font-size="23.3" font-weight="bold" text-anchor="end" letter-spacing="-1.1">2.0</text>
<text x="646.3" y="1755.64" font-size="23.3" font-weight="bold" text-anchor="end" letter-spacing="-1.1">1.5</text>
<text x="646.3" y="1823.54" font-size="23.3" font-weight="bold" text-anchor="end" letter-spacing="-1.1">1.0</text>
<text x="646.3" y="1894.84" font-size="23.3" font-weight="bold" text-anchor="end" letter-spacing="-1.1">0.5</text>
<text x="646.3" y="1965.54" font-size="23.3" font-weight="bold" text-anchor="end" letter-spacing="-1.1">0.0</text>
<text transform="translate(714.45 1985.6) rotate(-45)" font-size="21.3" font-weight="bold" text-anchor="end">Pr</text>
<text transform="translate(819.45 1985.6) rotate(-45)" font-size="21.3" font-weight="bold" text-anchor="end">ExpPE</text>
<text transform="translate(924.6 1985.6) rotate(-45)" font-size="21.3" font-weight="bold" text-anchor="end">NPr</text>
<text transform="translate(1029.95 1985.6) rotate(-45)" font-size="21.3" font-weight="bold" text-anchor="end">NPr + LPS</text>
<text transform="translate(590.5 1817.3) rotate(-90)" font-size="24" text-anchor="middle" stroke="#000" stroke-width="0.35">Relative gene expression</text>
<path d="M693.6 1692.2H812.7M695.9 1682.7V1701.7M810.4 1682.7V1701.7" stroke="#000" stroke-width="4.6" fill="none"/>
<text x="757.3" y="1687.8" font-size="28" text-anchor="middle">*</text>
</g>
</svg>
</body>
</html>
